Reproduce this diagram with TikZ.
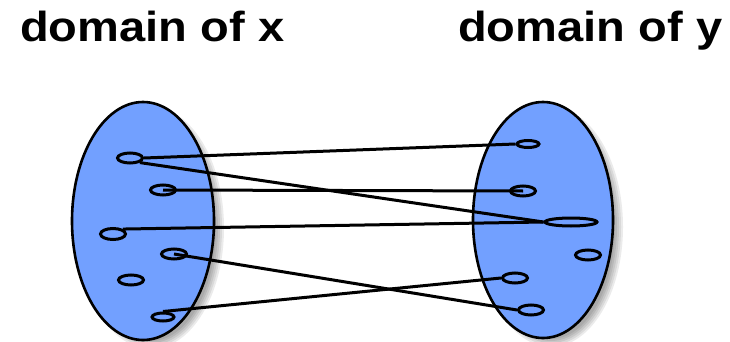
\documentclass[tikz,border=0pt]{standalone}
\usepackage{fontspec}
\setmainfont{Liberation Sans}
\usetikzlibrary{shapes.geometric}

\definecolor{setblue}{RGB}{114,160,255}

\tikzset{
  setbox/.style={ellipse, draw, fill=setblue, line width=2.6pt, minimum width=142pt, minimum height=238pt},
  elem/.style={ellipse, draw, line width=3pt, inner sep=0pt, minimum width=25pt, minimum height=10pt},
  link/.style={line width=3pt},
  title/.style={font=\bfseries\fontsize{42}{48}\selectfont, inner sep=0pt, anchor=base west, xscale=1.12}
}

\begin{document}
\begin{tikzpicture}[x=1pt, y=-1pt]
  \useasboundingbox (0,0) rectangle (730,342);

  \node[title] (tx) at (20,42) {domain of x};
  \node[title] (ty) at (458,42) {domain of y};

  % soft shadows under the two sets
  \foreach \s in {0,2,4,6,8} {
    \fill[black, opacity=0.08] (151,228) ellipse [x radius=73-\s, y radius=121-\s];
    \fill[black, opacity=0.08] (551,227) ellipse [x radius=72-\s, y radius=120-\s];
  }

  \node[setbox] (dx) at (143,221) {};
  \node[setbox, minimum width=140pt, minimum height=236pt] (dy) at (543,220) {};

  % elements of x
  \node[elem] (x1) at (130,158) {};
  \node[elem] (x2) at (163,190) {};
  \node[elem, minimum height=11pt] (x3) at (113,234) {};
  \node[elem] (x4) at (174,254) {};
  \node[elem] (x5) at (131,280) {};
  \node[elem, minimum width=22pt, minimum height=8pt] (x6) at (163,317) {};

  % elements of y
  \node[elem, minimum width=22pt, minimum height=7pt] (y1) at (528,144) {};
  \node[elem] (y2) at (523,191) {};
  \node[elem, minimum width=52pt, minimum height=8pt] (y3) at (571,222) {};
  \node[elem] (y4) at (588,255) {};
  \node[elem] (y5) at (515,278) {};
  \node[elem] (y6) at (531,310) {};

  \draw[link] (x1.east) -- (y1.west);
  \draw[link] (x1.south east) -- (y3.west);
  \draw[link] (x2.center) -- (y2.center);
  \draw[link] (x3.north east) -- (y3.west);
  \draw[link] (x4.center) -- (y6.west);
  \draw[link] (x6.north) -- (y5.west);
\end{tikzpicture}
\end{document}
